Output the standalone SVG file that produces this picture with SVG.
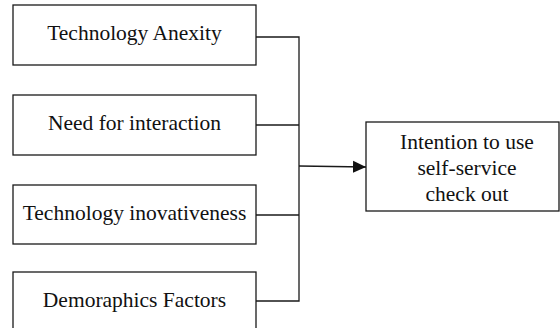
<svg xmlns="http://www.w3.org/2000/svg" width="560" height="328" viewBox="0 0 560 328">
<style>
.box{fill:#fff;stroke:#1a1a1a;stroke-width:1.3}
.lbl{font-family:"Liberation Serif","Times New Roman",serif;font-size:21.5px;fill:#111;text-anchor:middle}
.con{fill:none;stroke:#1a1a1a;stroke-width:1.3}
</style>
<defs>
<marker id="arr" markerUnits="userSpaceOnUse" markerWidth="14" markerHeight="14" refX="13" refY="7" orient="auto">
<path d="M0,1 L13,7 L0,13 Z" fill="#111"/>
</marker>
</defs>
<rect width="560" height="328" fill="#fff"/>
<g id="n1"><rect class="box" x="13" y="5" width="243" height="60"/><text class="lbl" x="134.5" y="40">Technology Anexity</text></g>
<g id="n2"><rect class="box" x="13" y="95" width="243" height="60"/><text class="lbl" x="134.5" y="130">Need for interaction</text></g>
<g id="n3"><rect class="box" x="13" y="185" width="243" height="59"/><text class="lbl" x="134.5" y="220">Technology inovativeness</text></g>
<g id="n4"><rect class="box" x="13" y="272" width="243" height="70"/><text class="lbl" x="134.5" y="307">Demoraphics Factors</text></g>
<g id="n5"><rect class="box" x="366" y="122" width="193" height="89"/><text class="lbl" x="467" y="149">Intention to use</text><text class="lbl" x="467" y="175">self-service</text><text class="lbl" x="467" y="201">check out</text></g>
<g id="connectors">
<path class="con" d="M256,37 H299 V301 H256"/>
<path class="con" d="M256,125 H299"/>
<path class="con" d="M256,215 H299"/>
<path class="con" d="M299,166 L366,167" marker-end="url(#arr)"/>
</g>
</svg>
